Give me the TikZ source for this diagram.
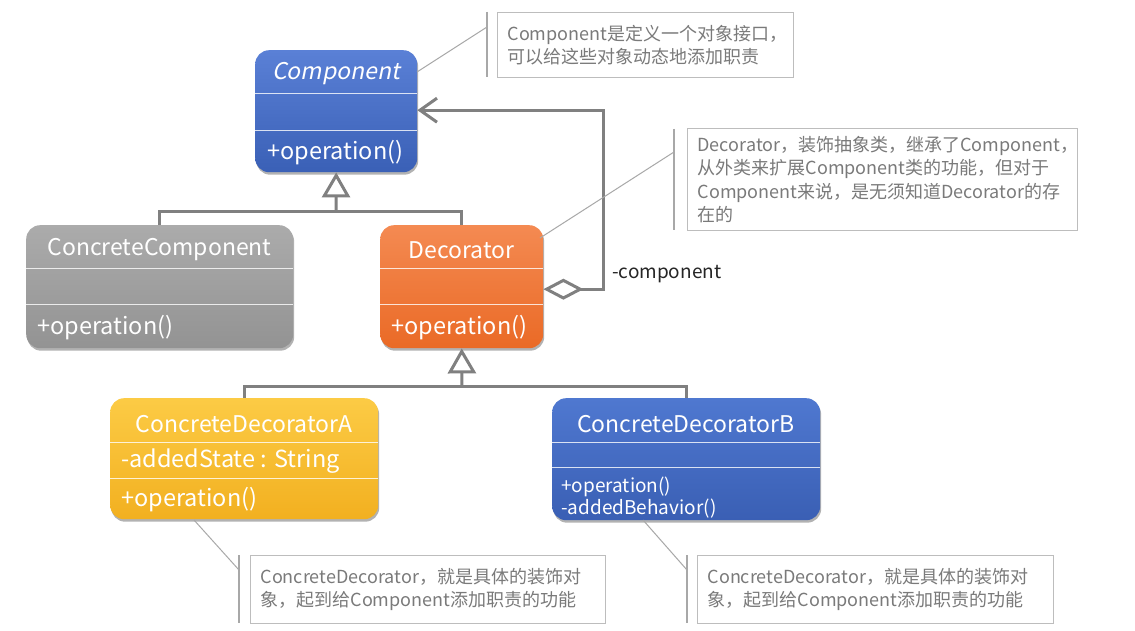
\documentclass[tikz,border=0pt]{standalone}
\usepackage{fontspec}
\setmainfont{Noto Sans CJK SC}
\newfontfamily\slantfont[FakeSlant=0.2]{Noto Sans CJK SC}
\usetikzlibrary{arrows.meta,shadows}
\definecolor{compT}{HTML}{5A80D6}
\definecolor{compB}{HTML}{3A60B6}
\definecolor{ccT}{HTML}{ABABAB}
\definecolor{ccB}{HTML}{939393}
\definecolor{decT}{HTML}{F48A52}
\definecolor{decB}{HTML}{EA6A26}
\definecolor{cdaT}{HTML}{FCCB45}
\definecolor{cdaB}{HTML}{F2B020}
\definecolor{cdbT}{HTML}{4F78D0}
\definecolor{cdbB}{HTML}{3A5FB4}
\definecolor{connc}{HTML}{808080}
\definecolor{notegray}{HTML}{BDBDBD}
\definecolor{notetext}{HTML}{7A7A7A}
\definecolor{leaderc}{HTML}{A8A8A8}
\begin{document}
\begin{tikzpicture}[x=1pt,y=-1pt,
  classbox/.style={draw=none, rounded corners=14pt, anchor=north west, inner sep=0pt,
    drop shadow={shadow xshift=1pt, shadow yshift=-2.5pt, opacity=0.3, fill=black}},
  sepline/.style={draw=white, line width=0.9pt, opacity=0.8},
  ttl/.style={text=white, font=\fontsize{23}{27}\selectfont, inner sep=0pt},
  member/.style={text=white, font=\fontsize{23.5}{27}\selectfont, inner sep=0pt, anchor=west},
  smallmember/.style={text=white, font=\fontsize{19}{22}\selectfont, inner sep=0pt, anchor=west},
  conn/.style={draw=connc, line width=3pt},
  lbl/.style={text=black!85, font=\fontsize{19}{22}\selectfont, inner sep=0pt, anchor=west},
  notebox/.style={draw=notegray, line width=1.2pt, anchor=north west, inner xsep=10pt, inner ysep=0pt,
    align=left, text=notetext, font=\fontsize{18}{23.5}\selectfont},
  bar/.style={draw=leaderc, line width=1.5pt},
  leader/.style={draw=leaderc, line width=1pt}
]
\useasboundingbox[fill=white] (0,0) rectangle (1135,631);

% ---------- classes ----------
\node[classbox, top color=compT, bottom color=compB, minimum width=162pt, minimum height=122pt] (comp) at (255,50) {};
\draw[sepline] (255,93) -- (417,93);
\draw[sepline] (255,130) -- (417,130);
\node[ttl] (compN) at (336,74) {\slantfont Component};
\node[member] (compOp) at (267,153) {+operation()};

\node[classbox, top color=ccT, bottom color=ccB, minimum width=267pt, minimum height=123pt] (cc) at (26,225) {};
\draw[sepline] (26,268) -- (293,268);
\draw[sepline] (26,304) -- (293,304);
\node[ttl] (ccN) at (159.5,250) {ConcreteComponent};
\node[member] (ccOp) at (37,328) {+operation()};

\node[classbox, top color=decT, bottom color=decB, minimum width=163pt, minimum height=123pt] (dec) at (380,225) {};
\draw[sepline] (380,268) -- (543,268);
\draw[sepline] (380,304) -- (543,304);
\node[ttl] (decN) at (461.5,250) {Decorator};
\node[member] (decOp) at (391,328) {+operation()};

\node[classbox, top color=cdaT, bottom color=cdaB, minimum width=268pt, minimum height=121pt] (cda) at (110,398) {};
\draw[sepline] (110,442) -- (378,442);
\draw[sepline] (110,478) -- (378,478);
\node[ttl] (cdaN) at (244,424) {ConcreteDecoratorA};
\node[member] (cdaAt) at (121,461) {-addedState : String};
\node[member] (cdaOp) at (121,500) {+operation()};

\node[classbox, top color=cdbT, bottom color=cdbB, minimum width=268pt, minimum height=122pt] (cdb) at (552,398) {};
\draw[sepline] (552,442) -- (820,442);
\draw[sepline] (552,467) -- (820,467);
\node[ttl] (cdbN) at (686,424) {ConcreteDecoratorB};
\node[smallmember] (cdbOp1) at (561,487) {+operation()};
\node[smallmember] (cdbOp2) at (561,509) {-addedBehavior()};

% ---------- generalization ----------
\coordinate (j1) at (336,212);
\draw[conn] (cc.north) |- (j1) -| (dec.north);
\draw[conn, -{Triangle[open, length=25pt, width=28pt]}] (j1) -- (comp.south);

\coordinate (j2) at (462,386);
\draw[conn] (cda.north) |- (j2) -| (cdb.north);
\draw[conn, -{Triangle[open, length=25pt, width=28pt]}] (j2) -- (dec.south);

% ---------- aggregation ----------
\draw[conn, {Diamond[open, length=40pt, width=21pt]}-{Straight Barb[length=17pt, width=24pt]}]
  ([yshift=-2.5pt]dec.east) -- ++(60,0) |- ([yshift=1pt]comp.east);
\node[lbl] (lblc) at (612,274) {-component};

% ---------- notes ----------
\node[notebox, minimum width=296pt, minimum height=65pt, text width=276pt] (n1) at (497,12)
  {Component是定义一个对象接口，\\可以给这些对象动态地添加职责};
\draw[bar] (487,12) -- (487,77);
\coordinate (l1a) at (417,72);
\coordinate (l1b) at (487,27);
\draw[leader] (l1a) -- (l1b);

\node[notebox, minimum width=390pt, minimum height=102pt, text width=370pt] (n2) at (687,128)
  {Decorator，装饰抽象类，继承了Component，\\从外类来扩展Component类的功能，但对于\\Component来说，是无须知道Decorator的存\\在的};
\draw[bar] (674,129) -- (674,230);
\coordinate (l2a) at (540,238);
\coordinate (l2b) at (674,152);
\draw[leader] (l2a) -- (l2b);

\node[notebox, minimum width=355pt, minimum height=68pt, text width=335pt] (n3) at (250,555)
  {ConcreteDecorator，就是具体的装饰对\\象，起到给Component添加职责的功能};
\draw[bar] (239,555) -- (239,623);
\coordinate (l3a) at (194,520);
\coordinate (l3b) at (239,570);
\draw[leader] (l3a) -- (l3b);

\node[notebox, minimum width=356pt, minimum height=68pt, text width=336pt] (n4) at (697,555)
  {ConcreteDecorator，就是具体的装饰对\\象，起到给Component添加职责的功能};
\draw[bar] (687,555) -- (687,623);
\coordinate (l4a) at (643,520);
\coordinate (l4b) at (687,570);
\draw[leader] (l4a) -- (l4b);
\end{tikzpicture}
\end{document}
